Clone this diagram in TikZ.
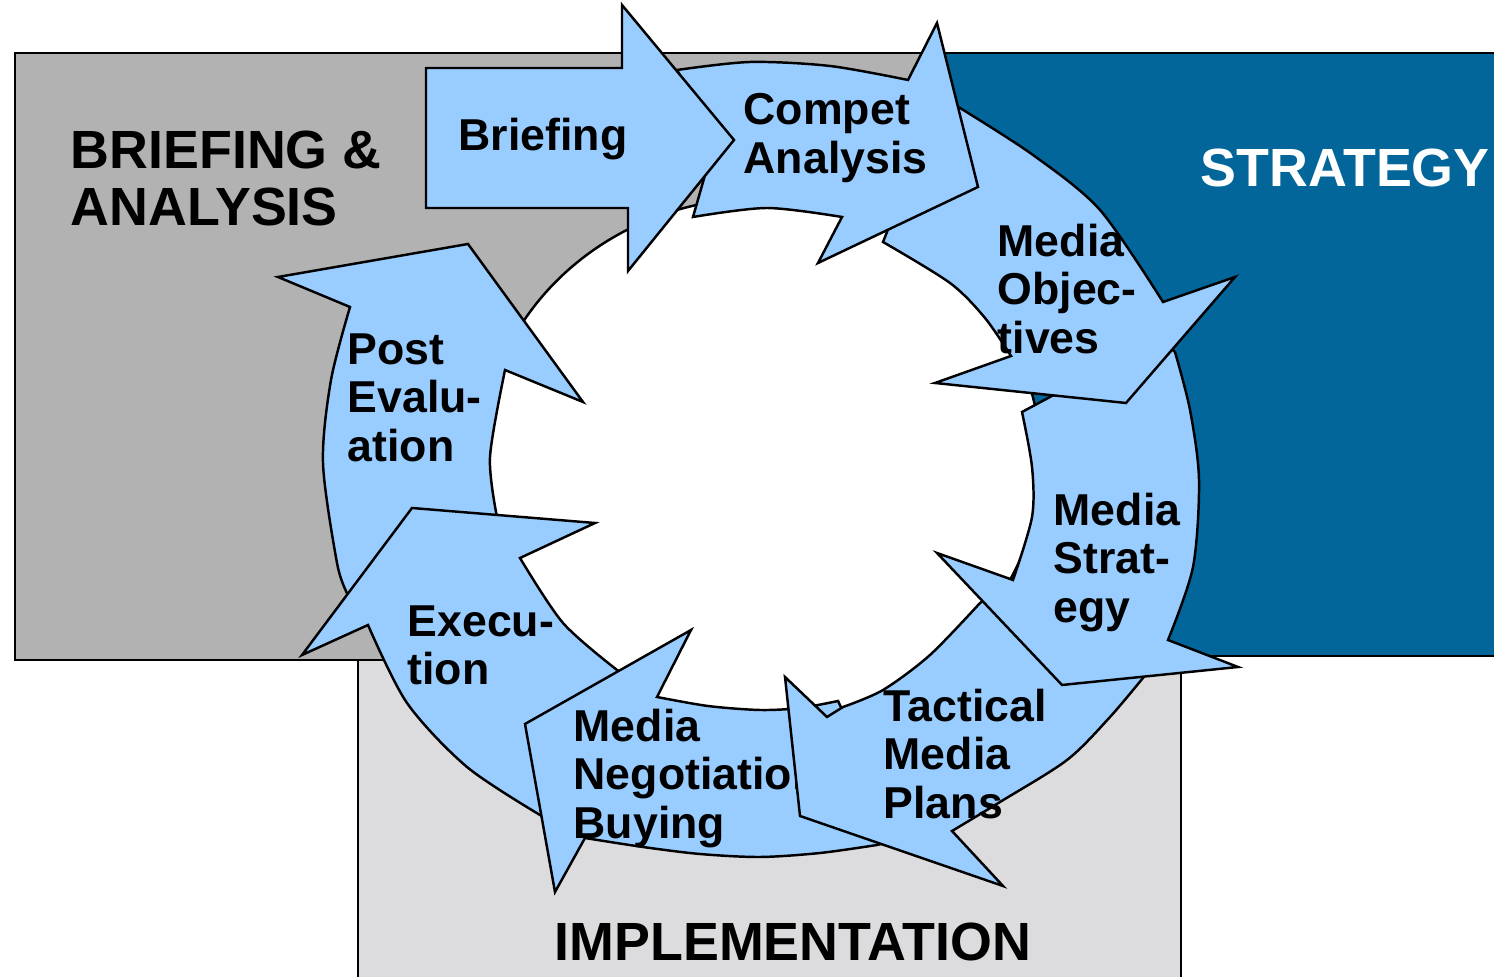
\documentclass[tikz,border=0pt]{standalone}
\usepackage{fontspec}
\setmainfont{Liberation Sans}
\usepackage{tikz}
\definecolor{ring1}{HTML}{99CCFF}
\definecolor{gray1}{HTML}{B2B2B2}
\definecolor{gray2}{HTML}{DCDCDE}
\definecolor{blue1}{HTML}{03669A}

\begin{document}
\begin{tikzpicture}[
    x=0.01cm, y=-0.01cm,
    phase/.style={draw=black, line width=0.7pt},
    phaselabel/.style={font=\bfseries\fontsize{15.3}{16.4}\selectfont,
                       align=left, anchor=north west, inner sep=0pt},
    segarrow/.style={draw=black, fill=ring1, line width=0.7pt,
                     line join=miter},
    seglabel/.style={font=\bfseries\fontsize{12.7}{13.8}\selectfont,
                     align=left, anchor=north west, inner sep=0pt},
]
\clip (0,0) rectangle (1494,977);

% ── phase boxes ──
\draw[phase, fill=gray2] (358,640) rectangle (1181,1000);
\draw[phase, fill=gray1] (15,53) rectangle (950,660);
\draw[phase, fill=blue1] (943,53) rectangle (1510,656);

\node[phaselabel] (briefLbl) at (70,130) {BRIEFING \&\\ANALYSIS};
\node[phaselabel, text=white] (stratLbl) at (1200,148) {STRATEGY};
\node[phaselabel] (implLbl) at (554,922) {IMPLEMENTATION};

% ── hole of the cycle ──
\draw[phase, fill=white] (761,460) ellipse [x radius=280, y radius=262];

% ── cycle steps (each head lies on the next tail) ──
% Post Evaluation
\draw[segarrow] (370,600)
    -- plot[smooth] coordinates {(347,593) (337,563) (323,463) (331,380) (350,307)}
    -- (278,277) -- (468,244) -- (583,402)
    -- plot[smooth] coordinates {(505,370) (490,457) (497,517)}
    -- (500,540) -- cycle;
\node[seglabel] (postLbl) at (347,333) {Post\\Evalu-\\ation};

% Execution
\draw[segarrow] (570,830)
    -- plot[smooth] coordinates {(540,815) (467,767) (407,703) (368,625)}
    -- (302,655) -- (412,508) -- (595,523)
    -- plot[smooth] coordinates {(520,558) (563,623) (617,670)}
    -- (645,688) -- cycle;
\node[seglabel] (execLbl) at (407,605) {Execu-\\tion};

% Media Negotiation
\draw[segarrow] (905,838)
    -- plot[smooth] coordinates {(877,845) (820,853) (760,857) (700,854) (643,847) (585,838)}
    -- (555,892) -- (525,724) -- (691,630)
    -- plot[smooth] coordinates {(657,697) (708,706) (760,710) (800,708) (838,701)}
    -- cycle;
\node[seglabel] (negoLbl) at (573,708) {Media\\Negotiation\\Buying};

% Tactical Media Plans
\draw[segarrow] (1150,655)
    -- plot[smooth] coordinates {(1147,673) (1110,717) (1067,760) (1000,802) (952,831)}
    -- (1003,886) -- (800,816) -- (785,677) -- (827,717)
    -- plot[smooth] coordinates {(843,707) (883,690) (930,655) (980,603)}
    -- (1000,590) -- cycle;
\node[seglabel] (tactLbl) at (883,688) {Tactical\\Media\\Plans};

% Media Strategy
\draw[segarrow] (1160,338)
    -- plot[smooth] coordinates {(1175,352) (1190,410) (1199,480) (1193,567) (1168,640)}
    -- (1238,667) -- (1062,685) -- (937,553)
    -- plot[smooth] coordinates {(1013,580) (1032,517) (1032,467) (1022,412)}
    -- cycle;
\node[seglabel] (stratStep) at (1053,492) {Media\\Strat-\\egy};

% Media Objectives
\draw[segarrow] (940,100)
    -- plot[smooth] coordinates {(960,108) (1033,155) (1100,210) (1163,302)}
    -- (1235,277) -- (1126,403) -- (935,383)
    -- plot[smooth] coordinates {(1011,356) (985,318) (950,283) (883,242)}
    -- cycle;
\node[seglabel] (objLbl) at (997,223) {Media\\Objec-\\tives};

% Compet Analysis
\draw[segarrow] plot[smooth] coordinates {(677,70) (750,62) (830,66) (908,80)}
    -- (937,23) -- (978,187) -- (818,263)
    -- plot[smooth] coordinates {(842,217) (767,208) (693,217)}
    -- (715,140) -- cycle;
\node[seglabel] (compLbl) at (743,93) {Compet\\Analysis};

% Briefing
\draw[segarrow] (426,68) -- (622,68) -- (622,5) -- (734,140)
    -- (628,271) -- (628,208) -- (426,208) -- cycle;
\node[seglabel] (briefStep) at (458,117) {Briefing};

\end{tikzpicture}
\end{document}
